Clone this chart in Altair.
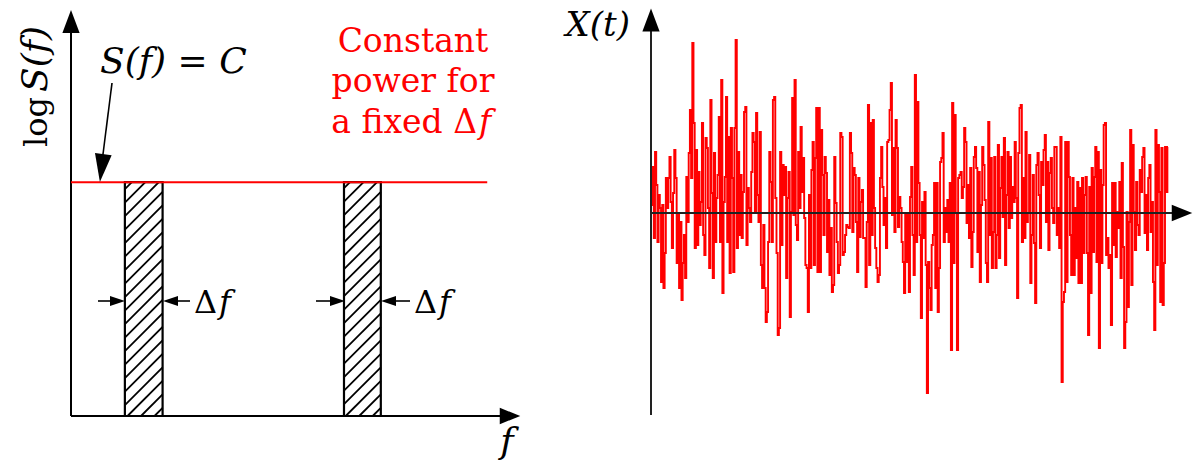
import altair as alt
import pandas as pd

# ---------------- data ----------------
# Left panel: flat (white-noise) spectrum, log S(f) = C
spec_level = 5.76
spec_f_max = 9.27
band_start = [1.20, 6.08]
band_end = [2.04, 6.90]

xt_part1 = [8, 46, -25, 61, 28, -29, 18, 5, -69, 8, -75, -40, 35, 5, 35, 56, 11, -35, 20, 63,
            35, -50, -2, -75, -9, -87, -50, -22, -65, 36, -9, 60, 103, 35, 170, 90, -35, 63, -32, 41,
            -12, 11, 90, -22, -42, 75, 65, 5, -55, 113, 20, -65, 60, -29, 15, 38, 96, -29, 133, -80,
            11, 36, 116, -29, 76, -60, 85]
xt_part2 = [35, -59, 85, 173, -35, 61, -22, 38, -25, 21, 101, 106, -32, 25, 5, -9, 41, 80, 71, 1,
            100, 18, -9, 81, -52, -75, -12, -75, -109, -99, -29, 61, 31, -29, 113, 116, 15, -40, -122, -115,
            61, -32, 48, 18, 46, -65, 15, 41, -104, 1, 115, -2, 133, -12, -27, 61, 5, 86, 21, 55,
            -5, -52, -55, -99, 18, -55, 43, 71, -52, 55, 105, -59]
xt_part3 = [105, -59, 83, 38, -22, 56, 40, -39, 13, -62, -15, -79, -72, 56, 10, -29, -60, -52, 80, 76,
            -42, -39, -22, -12, -14, -15, 80, 60, -19, 45, 38, -9, -59, 35, -24, 11, 23, -25, -25, -74,
            -9, 108, -52, 90, -22, 93, 5, -35, -55, -69, -62, 35, 66, 26, -12, 15, -35, 71, 73, 103,
            130, -2, 65, -19, 93, 65, -14, 16, 5, -29, -49, -80, -2]
xt_part4 = [-49, -2, -79, 16, 46, -22, -62, 138, -29, 111, 30, -22, -105, 11, -25, 21, -52, -180, -49, -75,
            -97, -32, -22, 30, -75, 30, -99, -55, 51, 55, 80, -29, 5, -19, 13, -29, 30, -137, 110, -50,
            98, 0, -137, 35, 38, 41, 15, 26, 85, 71, -10, 28, -25, 45, -54, -19, 56, 66, 45, -39,
            41, -69, 8, 66, 48, 13, -50, -69, 91, -22, 55, -55, -19]
xt_part5 = [56, -55, -22, 68, -45, 25, 56, -4, 75, -52, 18, 61, -15, 56, -5, 26, 11, 71, 15, -85,
            60, 105, 108, -29, 35, -25, 81, -9, 0, 58, -70, -22, 38, -30, -90, 48, 60, 18, -35, 51,
            28, 63, 78, -9, 51, -37, 40, 55, 5, -10, 66, 66, -22, 5, -35, 76, -169, -89, -79, 71,
            -69, 71, 36, -22, -62, 35, -62, 5, -45, 31, -70]
xt_part6 = [25, -70, 35, -40, 18, 36, -40, -122, 26, -80, 45, -39, 36, 66, -49, 61, -135, 43, -50, 28,
            88, 90, -42, -25, -55, -42, -112, 30, -32, 30, -44, 1, -15, 31, -65, 50, -34, -135, -109, 1,
            -94, -9, 83, -72, 68, 1, -37, 31, -12, -22, 43, 21, 56, 65, -20, 18, -37, 35, 48, -19,
            11, -69, -117, 83, -52, 68, 21, -89, 65, -92, -50, 66, 21, 66]

xt_values = xt_part1 + xt_part2 + xt_part3 + xt_part4 + xt_part5 + xt_part6
N = len(xt_values)

# ---------------- layout helpers (page pixel -> data units) ----------------
W, H = 1187, 455
FONT = "DejaVu Serif"


def lf(px):
    return (px - 71) / 44.9


def ls(py):
    return (416 - py) / 40.6


def rt(px):
    return (px - 652) * (N - 1) / 516.0


def rv(py):
    return 213 - py


LX = alt.Scale(domain=[0, 10], range=[63, 512], nice=False, zero=False)
LY = alt.Scale(domain=[0, 10], range=[408, 2], nice=False, zero=False)
RX = alt.Scale(domain=[0, N - 1], range=[644, 1160], nice=False, zero=False)
RY = alt.Scale(domain=[-100, 100], range=[305, 105], nice=False, zero=False)

AR_R = "M-1,-0.8L1,0L-1,0.8Z"
AR_U = "M-0.75,1L0,-1L0.75,1Z"
AR_D = "M-0.6,-1L0,1L0.6,-1Z"
SM_R = "M-1,-0.66L1,0L-1,0.66Z"
SM_L = "M1,-0.66L-1,0L1,0.66Z"


def lx(f="x"):
    return alt.X(f + ":Q", scale=LX, axis=None)


def ly(f="y"):
    return alt.Y(f + ":Q", scale=LY, axis=None)


def rx(f="x"):
    return alt.X(f + ":Q", scale=RX, axis=None)


def ry(f="y"):
    return alt.Y(f + ":Q", scale=RY, axis=None)


def seg_df(rows):
    return pd.DataFrame(rows, columns=["x", "x2", "y", "y2"])


# ---------------- left panel ----------------
axes_left = alt.Chart(seg_df([
    [0, 0, 0, ls(33)],
    [0, lf(502), 0, 0],
])).mark_rule(color="black", strokeWidth=2).encode(
    x=lx(), x2="x2:Q", y=ly(), y2="y2:Q")

arrows_left = alt.layer(
    alt.Chart(pd.DataFrame({"x": [0], "y": [ls(21.5)]})).mark_point(
        shape=AR_U, filled=True, size=529, color="black", opacity=1).encode(x=lx(), y=ly()),
    alt.Chart(pd.DataFrame({"x": [lf(510)], "y": [0]})).mark_point(
        shape=AR_R, filled=True, size=420, color="black", opacity=1).encode(x=lx(), y=ly()),
)

bands = pd.DataFrame({"a": band_start, "b": band_end, "lo": [0, 0], "hi": [spec_level, spec_level]})
band_rect = alt.Chart(bands).mark_rect(fill="white", stroke="black", strokeWidth=2.2).encode(
    x=alt.X("a:Q", scale=LX, axis=None), x2="b:Q",
    y=alt.Y("lo:Q", scale=LY, axis=None), y2="hi:Q")

# diagonal hatching inside the bands
slope = 44.9 / 40.6
step = 13.5 / 40.6
hatch_rows = []
for a, b in zip(band_start, band_end):
    w = b - a
    c = -w * slope + step * 0.6
    while c < spec_level:
        x0, y0 = a, c
        if y0 < 0:
            x0, y0 = a - c / slope, 0.0
        x1, y1 = b, c + w * slope
        if y1 > spec_level:
            x1, y1 = a + (spec_level - c) / slope, spec_level
        if x1 > x0:
            hatch_rows.append([x0, x1, y0, y1])
        c += step
hatch = alt.Chart(seg_df(hatch_rows)).mark_rule(color="black", strokeWidth=1.8).encode(
    x=lx(), x2="x2:Q", y=ly(), y2="y2:Q")

level_line = alt.Chart(pd.DataFrame({"x": [0], "x2": [spec_f_max], "y": [spec_level]})).mark_rule(
    color="#ff0000", strokeWidth=2).encode(x=lx(), x2="x2:Q", y=ly())

# pointer S(f)=C
pointer = alt.Chart(seg_df([[lf(112), lf(102), ls(83), ls(162)]])).mark_rule(
    color="black", strokeWidth=1.6).encode(x=lx(), x2="x2:Q", y=ly(), y2="y2:Q")
pointer_head = alt.Chart(pd.DataFrame({"x": [lf(101.6)], "y": [ls(168)]})).mark_point(
    shape=AR_D, filled=True, size=784, angle=7, color="black", opacity=1).encode(x=lx(), y=ly())

# delta-f arrows
ya = ls(301)
df_lines = alt.Chart(seg_df([
    [lf(98), lf(116), ya, ya],
    [lf(190), lf(172), ya, ya],
    [lf(316), lf(336), ya, ya],
    [lf(410), lf(390), ya, ya],
])).mark_rule(color="black", strokeWidth=1.6).encode(x=lx(), x2="x2:Q", y=ly(), y2="y2:Q")
df_heads_r = alt.Chart(pd.DataFrame({"x": [lf(117.5), lf(337.5)], "y": [ya, ya]})).mark_point(
    shape=SM_R, filled=True, size=225, color="black", opacity=1).encode(x=lx(), y=ly())
df_heads_l = alt.Chart(pd.DataFrame({"x": [lf(170.5), lf(388.5)], "y": [ya, ya]})).mark_point(
    shape=SM_L, filled=True, size=225, color="black", opacity=1).encode(x=lx(), y=ly())


def txt(df, xs, ys, **kw):
    base = dict(font=FONT, color="black")
    base.update(kw)
    return alt.Chart(df).mark_text(**base).encode(x=xs, y=ys, text="t:N")


delta_txt = txt(pd.DataFrame({"x": [lf(194), lf(414)], "y": [ls(313)] * 2, "t": ["Δ", "Δ"]}),
                lx(), ly(), align="left", baseline="alphabetic", fontSize=32)
delta_f = txt(pd.DataFrame({"x": [lf(219), lf(439)], "y": [ls(313)] * 2, "t": ["f", "f"]}),
              lx(), ly(), align="left", baseline="alphabetic", fontSize=32, fontStyle="italic")

sfc = txt(pd.DataFrame({"x": [lf(100)], "y": [ls(73)], "t": ["S(f) = C"]}),
          lx(), ly(), align="left", baseline="alphabetic", fontSize=36, fontStyle="italic")

ylab_log = txt(pd.DataFrame({"x": [lf(47)], "y": [ls(147)], "t": ["log"]}),
               lx(), ly(), align="left", baseline="alphabetic", fontSize=32, angle=270)
ylab_s = txt(pd.DataFrame({"x": [lf(47)], "y": [ls(92)], "t": ["S(f)"]}),
             lx(), ly(), align="left", baseline="alphabetic", fontSize=36, angle=270, fontStyle="italic")

xlab_f = txt(pd.DataFrame({"x": [lf(507)], "y": [ls(453)], "t": ["f"]}),
             lx(), ly(), align="center", baseline="alphabetic", fontSize=36, fontStyle="italic")

red_lines = pd.DataFrame({"x": [lf(413)] * 2, "y": [ls(52), ls(92)],
                          "t": ["Constant", "power for"]})
red_txt = txt(red_lines, lx(), ly(), align="center", baseline="alphabetic", fontSize=33,
              color="#ff0000")
red_3 = txt(pd.DataFrame({"x": [lf(477)], "y": [ls(133)], "t": ["a fixed Δ"]}),
            lx(), ly(), align="right", baseline="alphabetic", fontSize=33, color="#ff0000")
red_f = txt(pd.DataFrame({"x": [lf(479)], "y": [ls(133)], "t": ["f"]}),
            lx(), ly(), align="left", baseline="alphabetic", fontSize=33, color="#ff0000",
            fontStyle="italic")

left = alt.layer(axes_left, arrows_left, band_rect, hatch, level_line, pointer, pointer_head,
                 df_lines, df_heads_r, df_heads_l, delta_txt, delta_f, sfc, ylab_log, ylab_s,
                 xlab_f, red_txt, red_3, red_f)

# ---------------- right panel ----------------
sig = pd.DataFrame({"x": list(range(N)), "y": xt_values})
signal = alt.Chart(sig).mark_line(color="#ff0000", strokeWidth=1.9, interpolate="step").encode(
    x=rx(), y=ry())

axes_right = alt.Chart(seg_df([
    [rt(651), rt(651), rv(415), rv(30)],
    [rt(651), rt(1174), rv(213), rv(213)],
])).mark_rule(color="#222222", strokeWidth=2).encode(x=rx(), x2="x2:Q", y=ry(), y2="y2:Q")
arrows_right = alt.layer(
    alt.Chart(pd.DataFrame({"x": [rt(651)], "y": [rv(20)]})).mark_point(
        shape=AR_U, filled=True, size=529, color="black", opacity=1).encode(x=rx(), y=ry()),
    alt.Chart(pd.DataFrame({"x": [rt(1182)], "y": [rv(213)]})).mark_point(
        shape=AR_R, filled=True, size=420, color="black", opacity=1).encode(x=rx(), y=ry()),
)
xt_label = txt(pd.DataFrame({"x": [rt(630)], "y": [rv(36)], "t": ["X(t)"]}),
               rx(), ry(), align="right", baseline="alphabetic", fontSize=34, fontStyle="italic")

right = alt.layer(signal, axes_right, arrows_right, xt_label)

chart = alt.layer(left, right).resolve_scale(x="independent", y="independent").properties(
    width=W, height=H, padding=0, autosize="none", background="white"
).configure_view(stroke=None)

chart.save("out.html", embed_options={"renderer": "svg", "actions": False})
